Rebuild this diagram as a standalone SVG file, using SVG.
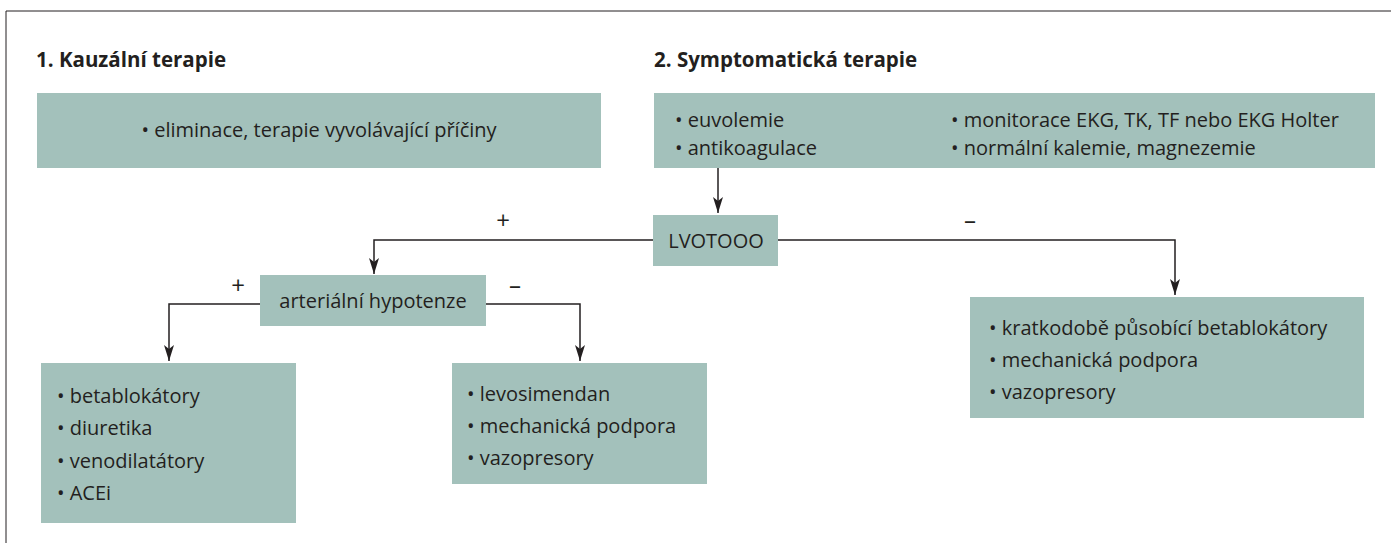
<svg xmlns="http://www.w3.org/2000/svg" width="1391" height="543" viewBox="0 0 1391 543">
<style>
.box{fill:#a3c1bb}
.t{font-family:"Open Sans","Liberation Sans",Arial,sans-serif;font-size:20px;fill:#231f20}
.h{font-family:"Open Sans","Liberation Sans",Arial,sans-serif;font-size:20.5px;font-weight:bold;fill:#231f20}
.s{font-family:"Open Sans","Liberation Sans",Arial,sans-serif;font-size:24px;fill:#231f20;text-anchor:middle}
.c{text-anchor:middle}
.ln{fill:none;stroke:#231f20;stroke-width:1.5}
</style>
<defs>
<marker id="ar" markerWidth="16" markerHeight="10" refX="16" refY="5" orient="auto" markerUnits="userSpaceOnUse" viewBox="0 0 16 10">
<path d="M0,0 L16,5 L0,10 L4,5 Z" fill="#231f20"/>
</marker>
</defs>
<rect width="1391" height="543" fill="#fff"/>
<path d="M6,543 V11 H1391" fill="none" stroke="#231f20" stroke-width="1"/>
<text class="h" x="36" y="67">1. Kauzální terapie</text>
<text class="h" x="654" y="67">2. Symptomatická terapie</text>
<g id="causal">
<rect class="box" x="37" y="93" width="564" height="75"/>
<text class="t c" x="319" y="137">• eliminace, terapie vyvolávající příčiny</text>
</g>
<g id="symptomatic">
<rect class="box" x="654" y="93" width="721" height="75"/>
<text class="t" x="675" y="127">• euvolemie</text>
<text class="t" x="675" y="155">• antikoagulace</text>
<text class="t" x="951" y="127">• monitorace EKG, TK, TF nebo EKG Holter</text>
<text class="t" x="951" y="155">• normální kalemie, magnezemie</text>
</g>
<g id="lvotooo">
<rect class="box" x="653" y="215" width="125" height="51"/>
<text class="t c" x="716" y="248">LVOTOOO</text>
</g>
<g id="hypotenze">
<rect class="box" x="260" y="275" width="226" height="51"/>
<text class="t c" x="373" y="308">arteriální hypotenze</text>
</g>
<g id="plusbox">
<rect class="box" x="41" y="363" width="255" height="160"/>
<text class="t" x="57" y="403">• betablokátory</text>
<text class="t" x="57" y="435">• diuretika</text>
<text class="t" x="57" y="468">• venodilatátory</text>
<text class="t" x="57" y="500">• ACEi</text>
</g>
<g id="minusbox">
<rect class="box" x="452" y="363" width="255" height="121"/>
<text class="t" x="467" y="401">• levosimendan</text>
<text class="t" x="467" y="433">• mechanická podpora</text>
<text class="t" x="467" y="465">• vazopresory</text>
</g>
<g id="rightbox">
<rect class="box" x="970" y="297" width="394" height="121"/>
<text class="t" x="989" y="335">• kratkodobě působící betablokátory</text>
<text class="t" x="989" y="367">• mechanická podpora</text>
<text class="t" x="989" y="399">• vazopresory</text>
</g>
<g id="connectors">
<path class="ln" d="M718,168 V213" marker-end="url(#ar)"/>
<path class="ln" d="M653,240 H374 V274" marker-end="url(#ar)"/>
<path class="ln" d="M778,240 H1175 V295" marker-end="url(#ar)"/>
<path class="ln" d="M260,304 H169 V361" marker-end="url(#ar)"/>
<path class="ln" d="M486,304 H580 V361" marker-end="url(#ar)"/>
</g>
<g id="labels">
<text class="s" x="503" y="229">+</text>
<text class="s" x="970" y="229">–</text>
<text class="s" x="238" y="294">+</text>
<text class="s" x="515" y="294">–</text>
</g>
</svg>
